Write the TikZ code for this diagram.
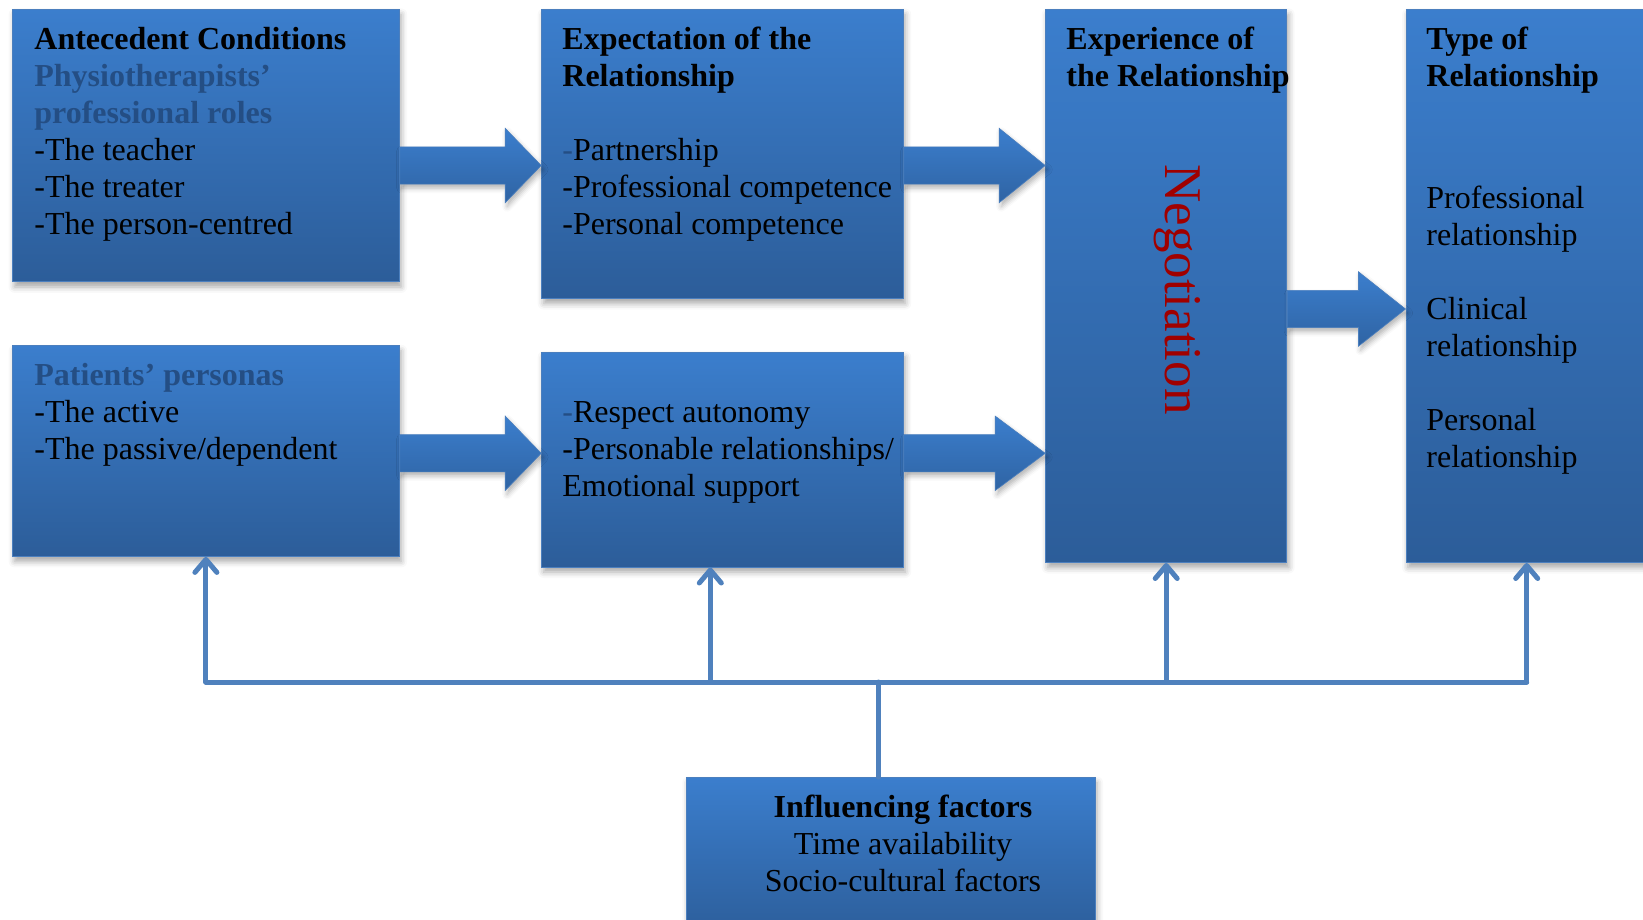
\documentclass[tikz,border=0pt]{standalone}
\usepackage{fontspec}
\setmainfont{Liberation Serif}
\usetikzlibrary{calc,fit,shadows.blur,arrows.meta}

\definecolor{boxtop}{RGB}{59,126,205}
\definecolor{boxbot}{RGB}{44,93,153}
\definecolor{boxline}{RGB}{75,127,190}
\definecolor{subhead}{RGB}{36,78,132}
\definecolor{connblue}{RGB}{79,129,189}
\definecolor{negred}{RGB}{160,0,0}

\tikzset{
  box/.style={draw=boxline, line width=0.5pt, top color=boxtop, bottom color=boxbot,
    inner sep=0pt,
    blur shadow={shadow xshift=1pt, shadow yshift=-2.5pt, shadow blur radius=3pt, shadow opacity=35}},
  % multi-line texts are placed by the baseline of their last line
  body/.style={inner sep=0pt, align=left, anchor=base west,
    font=\fontsize{16}{18.5}\selectfont},
  centred/.style={inner sep=0pt, align=center, anchor=base,
    font=\fontsize{16}{18.5}\selectfont},
  conn/.style={draw=connblue, line width=2.5pt, line cap=round, line join=round},
  uptip/.style={-{Straight Barb[length=6.5pt,width=11pt,round]}},
  blockarrow/.style={top color=boxtop, bottom color=boxbot!80!boxtop,
    draw=boxline, line width=0.3pt,
    blur shadow={shadow xshift=1pt, shadow yshift=-2pt, shadow blur radius=2.5pt, shadow opacity=30}},
}

% block arrow: from node #1 to node #2 at the height of coordinate #3, head length #4
\newcommand\flowarrow[4]{%
  \path[blockarrow] let \p1=(#1.east), \p2=(#2.west), \p3=(#3) in
    (\x1,\y3+9.3pt) -- (\x2-#4,\y3+9.3pt) -- (\x2-#4,\y3+18.6pt) -- (\x2,\y3)
    -- (\x2-#4,\y3-18.6pt) -- (\x2-#4,\y3-9.3pt) -- (\x1,\y3-9.3pt) -- cycle;}

\begin{document}
\begin{tikzpicture}[x=0.5pt, y=-0.5pt]
  \useasboundingbox (0,0) rectangle (1643,920);
  \clip (0,0) rectangle (1643,920);

  % boxes
  \node[box, fit={(12.6,9.4) (399.2,281.9)}] (b1) {};
  \node[box, fit={(541.7,9.4) (903.2,298.6)}] (b2) {};
  \node[box, fit={(1045.7,9.4) (1286.7,562.5)}] (b3) {};
  \node[box, fit={(1406,9.4) (1647.4,562.5)}] (b4) {};
  \node[box, fit={(12.6,345.8) (399.2,556.4)}] (b5) {};
  \node[box, fit={(541.7,352) (903.2,567)}] (b6) {};
  \node[box, fit={(686.3,777.5) (1095,940)}] (b7) {};

  % block arrows between the boxes
  \coordinate (row1) at (0,165.5);
  \coordinate (row2) at (0,453.3);
  \coordinate (row3) at (0,309);
  \flowarrow{b1}{b2}{row1}{18pt}
  \flowarrow{b2}{b3}{row1}{23pt}
  \flowarrow{b5}{b6}{row2}{18pt}
  \flowarrow{b6}{b3}{row2}{25pt}
  \flowarrow{b3}{b4}{row3}{23.5pt}

  % box texts
  \node[body] (t1) at (34,234.5) {\textbf{Antecedent Conditions}\\
    \textcolor{subhead}{\textbf{Physiotherapists’}}\\
    \textcolor{subhead}{\textbf{professional roles}}\\
    -The teacher\\ -The treater\\ -The person-centred};
  \node[body] (t2) at (562,234.5) {\textbf{Expectation of the}\\
    \textbf{Relationship}\\[18.5pt]
    \textcolor{subhead}{-}Partnership\\ -Professional competence\\ -Personal competence};
  \node[body] (t3) at (1066,86.5) {\textbf{Experience of}\\ \textbf{the Relationship}};
  \node[rotate=-90, anchor=base, inner sep=0pt, text=negred,
    font=\fontsize{26.5}{30}\selectfont] (neg) at (1165,289.5) {Negotiation};
  \node[body] (t4) at (1426,86.5) {\textbf{Type of}\\ \textbf{Relationship}};
  \node[body] (t4a) at (1426,245) {Professional\\ relationship};
  \node[body] (t4b) at (1426,356) {Clinical\\ relationship};
  \node[body] (t4c) at (1426,467) {Personal\\ relationship};
  \node[body] (t5) at (34,459) {\textcolor{subhead}{\textbf{Patients’ personas}}\\
    -The active\\ -The passive/dependent};
  \node[body] (t6) at (562,496) {\textcolor{subhead}{-}Respect autonomy\\
    -Personable relationships/\\ Emotional support};
  \node[centred] (t7) at (903,891.5) {\textbf{Influencing factors}\\
    Time availability\\ Socio-cultural factors};

  % influencing factors feed every stage
  \coordinate (hub) at (878.7,682);
  \coordinate (x6) at (710.3,0);
  \draw[conn] (b5.south |- hub) -- (b4.south |- hub);
  \draw[conn] (hub |- b7.north) -- (hub);
  \draw[conn, uptip] (b5.south |- hub) -- (b5.south);
  \draw[conn, uptip] (x6 |- hub) -- (x6 |- b6.south);
  \draw[conn, uptip] (b3.south |- hub) -- (b3.south);
  \draw[conn, uptip] (b4.south |- hub) -- (b4.south);
\end{tikzpicture}
\end{document}
